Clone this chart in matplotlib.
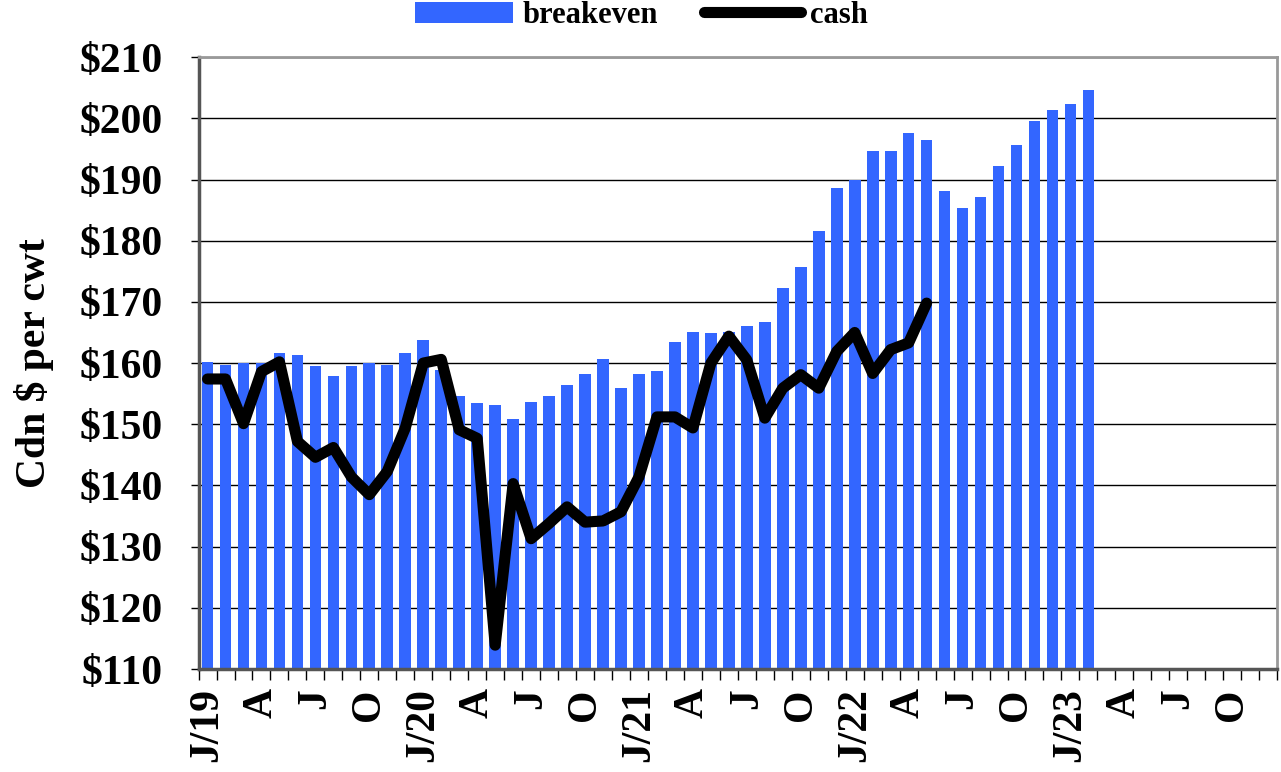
import matplotlib
matplotlib.use("Agg")
import matplotlib.pyplot as plt
import numpy as np

plt.rcParams['font.family'] = ['Liberation Serif', 'DejaVu Serif']
plt.rcParams['font.weight'] = 'bold'

# monthly data, Jan 2019 onwards
breakeven = [160.1, 159.7, 160.0, 160.0, 161.6, 161.4, 159.6, 157.9, 159.6, 160.0, 159.7, 161.6,
             163.8, 158.9, 154.6, 153.5, 153.2, 150.8, 153.6, 154.7, 156.4, 158.2, 160.7, 155.9,
             158.2, 158.7, 163.5, 165.0, 164.9, 165.0, 166.0, 166.7, 172.3, 175.7, 181.6, 188.6,
             190.0, 194.6, 194.6, 197.6, 196.4, 188.2, 185.3, 187.1, 192.2, 195.7, 199.5, 201.3,
             202.4, 204.7]
cash = [157.4, 157.4, 150.1, 158.6, 160.2, 147.2, 144.6, 146.2, 141.4, 138.5, 142.3, 149.4,
        160.0, 160.6, 149.1, 147.7, 113.9, 140.3, 131.3, 133.8, 136.5, 134.0, 134.2, 135.7,
        141.4, 151.2, 151.2, 149.4, 160.0, 164.4, 160.5, 151.0, 155.9, 158.1, 155.9, 161.9,
        165.0, 158.3, 162.2, 163.3, 169.8]
n_months = 60
tick_labels = ["J/19", "A", "J", "O", "J/20", "A", "J", "O", "J/21", "A", "J", "O",
               "J/22", "A", "J", "O", "J/23", "A", "J", "O"]
yticks = list(range(110, 211, 10))

fig = plt.figure(figsize=(12.81, 7.72), dpi=100)
ax = fig.add_axes([0.155, 0.1334, 0.842, 0.7926])

blue = "#3366FF"
bars = ax.bar(np.arange(len(breakeven)), breakeven, width=0.65, color=blue, label="breakeven", zorder=2)
line, = ax.plot(np.arange(len(cash)), cash, color="black", lw=8, solid_capstyle="round",
                solid_joinstyle="round", label="cash", zorder=3)

ax.set_xlim(-0.5, n_months - 0.5)
ax.set_ylim(110, 210)
ax.set_yticks(yticks)
ax.set_yticklabels(["$%d" % v for v in yticks], fontsize=30, fontweight="bold")
ax.yaxis.grid(True, color="black", lw=1, zorder=1)
ax.set_axisbelow(True)

ax.set_xticks(np.arange(0, n_months, 3))
ax.set_xticklabels(tick_labels, rotation=90, fontsize=30, fontweight="bold")
ax.set_xticks(np.arange(-0.5, n_months, 1), minor=True)
ax.tick_params(axis="x", which="major", length=0, pad=14)
ax.tick_params(axis="x", which="minor", length=8, width=1, direction="out")
ax.tick_params(axis="y", length=6, width=1, direction="out", pad=20)

for s in ["top", "right"]:
    ax.spines[s].set_color("#999999")
    ax.spines[s].set_linewidth(2)
ax.spines["left"].set_color("#555555")
ax.spines["left"].set_linewidth(2.5)
ax.spines["bottom"].set_color("#555555")
ax.spines["bottom"].set_linewidth(2.5)

ax.set_ylabel("Cdn $ per cwt", fontsize=30, fontweight="bold")
ax.yaxis.set_label_coords(-0.134, 0.5)

fig.legend([bars, line], ["breakeven", "cash"], loc="center", bbox_to_anchor=(0.501, 0.98),
           ncol=2, frameon=False, prop={"size": 22, "weight": "bold"}, handlelength=3.2,
           handletextpad=0.3, columnspacing=1.5)

fig.savefig("out.png", dpi=100)
